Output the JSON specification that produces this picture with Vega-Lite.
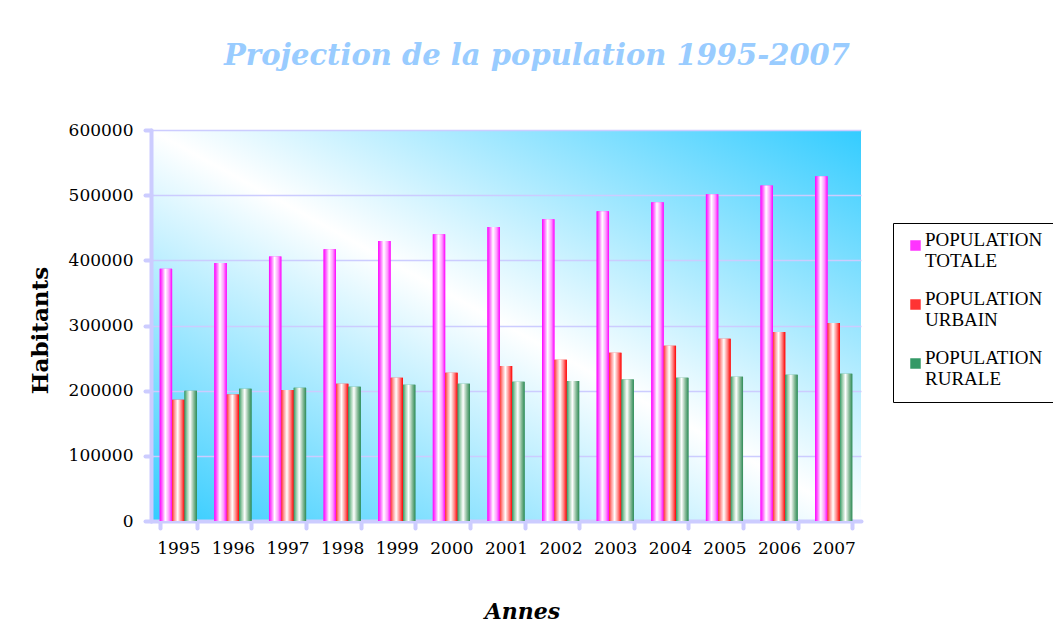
{
  "$schema": "https://vega.github.io/schema/vega-lite/v6.json",
  "autosize": "none",
  "width": 710,
  "height": 391,
  "padding": {"left": 151, "top": 130, "right": 192, "bottom": 111},
  "background": "white",
  "title": {
    "text": "Projection de la population 1995-2007",
    "font": "DejaVu Serif",
    "fontSize": 29,
    "fontWeight": "bold",
    "fontStyle": "italic",
    "color": "#99CCFF",
    "anchor": "middle",
    "dx": 31,
    "offset": 50
  },
  "config": {
    "view": {
      "stroke": null,
      "fill": {
        "gradient": "linear",
        "x1": 0, "y1": 1, "x2": 1, "y2": 0,
        "stops": [
          {"offset": 0, "color": "#33CCFF"},
          {"offset": 0.5, "color": "#FFFFFF"},
          {"offset": 1, "color": "#33CCFF"}
        ]
      }
    }
  },
  "data": {
    "values": [
      {"year": "1995", "series": "POPULATION TOTALE", "value": 387000},
      {"year": "1995", "series": "POPULATION URBAIN", "value": 186000},
      {"year": "1995", "series": "POPULATION RURALE", "value": 200000},
      {"year": "1996", "series": "POPULATION TOTALE", "value": 396000},
      {"year": "1996", "series": "POPULATION URBAIN", "value": 194000},
      {"year": "1996", "series": "POPULATION RURALE", "value": 203000},
      {"year": "1997", "series": "POPULATION TOTALE", "value": 406000},
      {"year": "1997", "series": "POPULATION URBAIN", "value": 201000},
      {"year": "1997", "series": "POPULATION RURALE", "value": 204500},
      {"year": "1998", "series": "POPULATION TOTALE", "value": 417000},
      {"year": "1998", "series": "POPULATION URBAIN", "value": 210500},
      {"year": "1998", "series": "POPULATION RURALE", "value": 206000},
      {"year": "1999", "series": "POPULATION TOTALE", "value": 429500},
      {"year": "1999", "series": "POPULATION URBAIN", "value": 220000},
      {"year": "1999", "series": "POPULATION RURALE", "value": 209000},
      {"year": "2000", "series": "POPULATION TOTALE", "value": 440000},
      {"year": "2000", "series": "POPULATION URBAIN", "value": 227500},
      {"year": "2000", "series": "POPULATION RURALE", "value": 210500},
      {"year": "2001", "series": "POPULATION TOTALE", "value": 451000},
      {"year": "2001", "series": "POPULATION URBAIN", "value": 238000},
      {"year": "2001", "series": "POPULATION RURALE", "value": 213500},
      {"year": "2002", "series": "POPULATION TOTALE", "value": 463000},
      {"year": "2002", "series": "POPULATION URBAIN", "value": 247500},
      {"year": "2002", "series": "POPULATION RURALE", "value": 215000},
      {"year": "2003", "series": "POPULATION TOTALE", "value": 475500},
      {"year": "2003", "series": "POPULATION URBAIN", "value": 258000},
      {"year": "2003", "series": "POPULATION RURALE", "value": 217000},
      {"year": "2004", "series": "POPULATION TOTALE", "value": 489000},
      {"year": "2004", "series": "POPULATION URBAIN", "value": 269000},
      {"year": "2004", "series": "POPULATION RURALE", "value": 220000},
      {"year": "2005", "series": "POPULATION TOTALE", "value": 501500},
      {"year": "2005", "series": "POPULATION URBAIN", "value": 279500},
      {"year": "2005", "series": "POPULATION RURALE", "value": 221500},
      {"year": "2006", "series": "POPULATION TOTALE", "value": 515000},
      {"year": "2006", "series": "POPULATION URBAIN", "value": 290000},
      {"year": "2006", "series": "POPULATION RURALE", "value": 224500},
      {"year": "2007", "series": "POPULATION TOTALE", "value": 529000},
      {"year": "2007", "series": "POPULATION URBAIN", "value": 304000},
      {"year": "2007", "series": "POPULATION RURALE", "value": 226000}
    ]
  },
  "encoding": {
    "x": {
      "field": "year",
      "type": "nominal",
      "sort": null,
      "scale": {"paddingInner": 0.32, "paddingOuter": 0.16},
      "axis": {
        "title": "Annes",
        "titleFont": "DejaVu Serif",
        "titleFontSize": 22,
        "titleFontWeight": "bold",
        "titleFontStyle": "italic",
        "titleColor": "black",
        "titleX": 371,
        "titleY": 97,
        "titleBaseline": "alphabetic",
        "titleAnchor": "start",
        "titleAlign": "center",
        "labelAngle": 0,
        "labelFont": "DejaVu Serif",
        "labelFontSize": 17,
        "labelColor": "black",
        "labelPadding": 12,
        "domainColor": "#CCCCFF",
        "domainWidth": 4,
        "domainCap": "round",
        "tickColor": "#CCCCFF",
        "tickWidth": 4,
        "tickSize": 7,
        "tickCap": "round",
        "tickBand": "extent",
        "grid": false
      }
    },
    "y": {
      "field": "value",
      "type": "quantitative",
      "scale": {"domain": [0, 600000], "nice": false},
      "axis": {
        "title": "Habitants",
        "titleFont": "DejaVu Serif",
        "titleFontSize": 23,
        "titleFontWeight": "bold",
        "titleColor": "black",
        "titleX": -111,
        "titleY": 200,
        "titleAngle": -90,
        "titleAlign": "center",
        "titleBaseline": "middle",
        "values": [0, 100000, 200000, 300000, 400000, 500000, 600000],
        "format": "d",
        "labelFont": "DejaVu Serif",
        "labelFontSize": 17,
        "labelColor": "black",
        "labelPadding": 12,
        "domainColor": "#CCCCFF",
        "domainWidth": 4,
        "domainCap": "round",
        "tickColor": "#CCCCFF",
        "tickWidth": 4,
        "tickSize": 6,
        "tickCap": "round",
        "grid": true,
        "gridColor": "#CCCCFF",
        "gridWidth": 1.5
      }
    },
    "xOffset": {
      "field": "series",
      "type": "nominal",
      "scale": {"domain": ["POPULATION TOTALE", "POPULATION URBAIN", "POPULATION RURALE"], "paddingInner": 0, "paddingOuter": 0}
    }
  },
  "layer": [
    {
      "mark": {"type": "bar"},
      "encoding": {
        "color": {
          "field": "series",
          "type": "nominal",
          "scale": {
            "domain": ["POPULATION TOTALE", "POPULATION URBAIN", "POPULATION RURALE"],
            "range": ["#FF33FF", "#FF3333", "#339966"]
          },
          "legend": {
            "title": null,
            "orient": "none",
            "legendX": 742,
            "legendY": 93,
            "direction": "vertical",
            "strokeColor": "black",
            "fillColor": "white",
            "padding": 13,
            "symbolType": "square",
            "symbolSize": 110,
            "symbolOpacity": 1,
            "symbolOffset": 0,
            "labelFont": "Liberation Serif",
            "labelFontSize": 19,
            "labelColor": "black",
            "labelLimit": 200,
            "labelBaseline": "alphabetic",
            "labelOffset": 0,
            "rowPadding": 18,
            "labelExpr": "split(datum.label, ' ')"
          }
        }
      }
    },
    {
      "transform": [{"filter": "datum.series === 'POPULATION TOTALE'"}],
      "mark": {
        "type": "bar",
        "color": {
          "gradient": "linear", "x1": 0, "y1": 0, "x2": 1, "y2": 0,
          "stops": [
            {"offset": 0, "color": "#FF00FF"},
            {"offset": 0.2, "color": "#FF66FF"},
            {"offset": 0.45, "color": "#FFFFFF"},
            {"offset": 0.75, "color": "#FF99FF"},
            {"offset": 1, "color": "#FF00FF"}
          ]
        }
      }
    },
    {
      "transform": [{"filter": "datum.series === 'POPULATION URBAIN'"}],
      "mark": {
        "type": "bar",
        "color": {
          "gradient": "linear", "x1": 0, "y1": 0, "x2": 1, "y2": 0,
          "stops": [
            {"offset": 0, "color": "#FF3333"},
            {"offset": 0.2, "color": "#FF9999"},
            {"offset": 0.45, "color": "#FFFFFF"},
            {"offset": 0.75, "color": "#FF8080"},
            {"offset": 1, "color": "#FF0000"}
          ]
        }
      }
    },
    {
      "transform": [{"filter": "datum.series === 'POPULATION RURALE'"}],
      "mark": {
        "type": "bar",
        "color": {
          "gradient": "linear", "x1": 0, "y1": 0, "x2": 1, "y2": 0,
          "stops": [
            {"offset": 0, "color": "#339966"},
            {"offset": 0.2, "color": "#99CCAA"},
            {"offset": 0.45, "color": "#FFFFFF"},
            {"offset": 0.75, "color": "#88BB99"},
            {"offset": 1, "color": "#2E8B57"}
          ]
        }
      }
    }
  ]
}
